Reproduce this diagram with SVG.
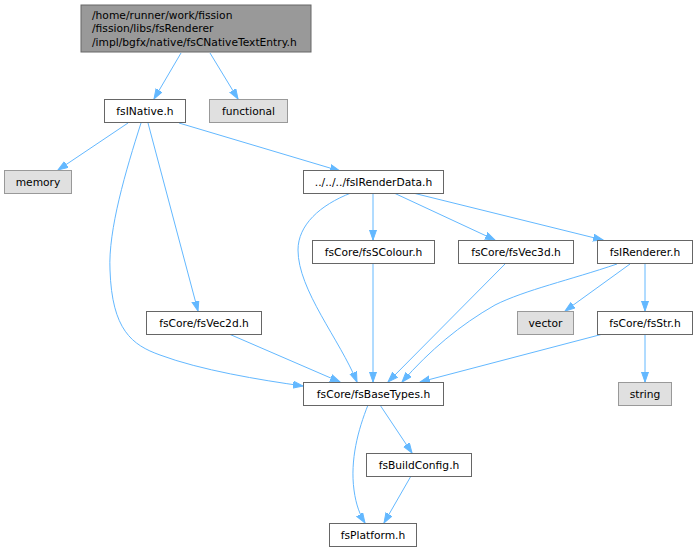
<svg xmlns="http://www.w3.org/2000/svg" width="698" height="552" viewBox="0 0 698 552">
<defs>
<style>
.n rect{fill:#ffffff;stroke:#666666;stroke-width:1}
.n.root rect{fill:#999999;stroke:#666666}
.n.ext rect{fill:#e0e0e0;stroke:#999999}
text{font-family:"DejaVu Sans",Verdana,sans-serif;font-size:10.7px;fill:#000000}
.c text{text-anchor:middle}
#edges path{fill:none;stroke:#63b8ff;stroke-width:1;marker-end:url(#ah)}
</style>
<marker id="ah" markerUnits="userSpaceOnUse" markerWidth="12" markerHeight="9" refX="10" refY="4" orient="auto">
<path d="M0,0.5 L10,4 L0,7.5 z" fill="#63b8ff" stroke="#63b8ff" stroke-width="1"/>
</marker>
</defs>
<rect width="698" height="552" fill="#ffffff"/>
<g id="edges">
<path d="M181,53 L154,99"/>
<path d="M210,53 L238,99"/>
<path d="M128,123 L58,170"/>
<path d="M179,123 L340,171"/>
<path d="M141,123 C126,170 108,230 110,270 C112,330 132,345 160,355 C200,370 260,380 303,386"/>
<path d="M148,123 L198,311"/>
<path d="M229,334 L340,382"/>
<path d="M351,193 C320,205 298,225 298,250 C298,290 340,340 357,382"/>
<path d="M373,193 L373,240"/>
<path d="M394,193 L495,240"/>
<path d="M413,193 L603,240"/>
<path d="M373,264 L373,382"/>
<path d="M505,264 L388,382"/>
<path d="M617,264 C570,280 525,290 495,305 C460,325 430,350 402,382"/>
<path d="M630,264 L565,311"/>
<path d="M645,264 L645,311"/>
<path d="M603,334 L420,382"/>
<path d="M645,334 L645,382"/>
<path d="M380,405 L412,453"/>
<path d="M368,405 C358,430 350,460 354,490 C356,505 360,515 365,523"/>
<path d="M411,476 L384,523"/>
</g>
<g id="root" class="n root"><rect x="81" y="5" width="230" height="47"/>
<text x="92" y="18.5">/home/runner/work/fission</text>
<text x="92" y="32">/fission/libs/fsRenderer</text>
<text x="92" y="45.5">/impl/bgfx/native/fsCNativeTextEntry.h</text></g>
<g id="fsINative" class="n c"><rect x="104.5" y="99.5" width="81" height="23"/><text x="145" y="114.8">fsINative.h</text></g>
<g id="functional" class="n c ext"><rect x="209.5" y="99.5" width="78" height="23"/><text x="248.5" y="114.8">functional</text></g>
<g id="memory" class="n c ext"><rect x="4.5" y="170.5" width="67" height="23"/><text x="38" y="185.8">memory</text></g>
<g id="fsIRenderData" class="n c"><rect x="303.5" y="170.5" width="140" height="23"/><text x="373.5" y="185.8">../../../fsIRenderData.h</text></g>
<g id="fsSColour" class="n c"><rect x="312.5" y="240.5" width="122" height="23"/><text x="373.5" y="255.8">fsCore/fsSColour.h</text></g>
<g id="fsVec3d" class="n c"><rect x="458.5" y="240.5" width="115" height="23"/><text x="516" y="255.8">fsCore/fsVec3d.h</text></g>
<g id="fsIRenderer" class="n c"><rect x="597.5" y="240.5" width="95" height="23"/><text x="645" y="255.8">fsIRenderer.h</text></g>
<g id="fsVec2d" class="n c"><rect x="146.5" y="311.5" width="115" height="23"/><text x="204" y="326.8">fsCore/fsVec2d.h</text></g>
<g id="vector" class="n c ext"><rect x="517.5" y="311.5" width="56" height="23"/><text x="545.5" y="326.8">vector</text></g>
<g id="fsStr" class="n c"><rect x="597.5" y="311.5" width="95" height="23"/><text x="645" y="326.8">fsCore/fsStr.h</text></g>
<g id="string" class="n c ext"><rect x="618.5" y="382.5" width="53" height="23"/><text x="645" y="397.8">string</text></g>
<g id="fsBaseTypes" class="n c"><rect x="303.5" y="382.5" width="140" height="23"/><text x="373.5" y="397.8">fsCore/fsBaseTypes.h</text></g>
<g id="fsBuildConfig" class="n c"><rect x="366.5" y="453.5" width="105" height="23"/><text x="419" y="468.8">fsBuildConfig.h</text></g>
<g id="fsPlatform" class="n c"><rect x="329.5" y="523.5" width="87" height="23"/><text x="373" y="538.8">fsPlatform.h</text></g>
</svg>
